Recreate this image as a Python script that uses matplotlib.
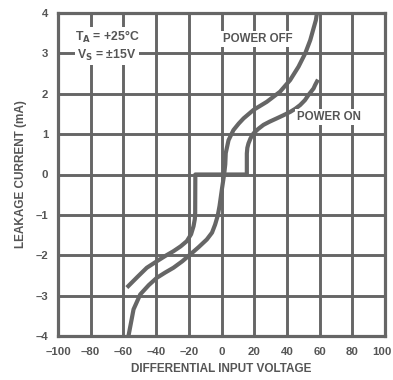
import matplotlib
matplotlib.use("Agg")
import matplotlib.pyplot as plt
from matplotlib.transforms import ScaledTranslation

# Differential input voltage (V) vs leakage current (mA)
power_off_v = [-56.9, -53.8, -49.7, -44.5, -39.6, -34.5, -29.4, -24.0, -19.1, -14.0, -9.0,
               -5.8, -3.9, -2.3, -1.2, 0.3, 1.6, 2.3, 2.6, 4.3, 7.3, 10.5, 13.5, 19.6,
               27.7, 35.8, 42.0, 47.1, 51.2, 54.3, 56.3, 57.7, 58.4]
power_off_i = [-4.0, -3.34, -2.97, -2.74, -2.56, -2.43, -2.31, -2.15, -1.98, -1.80, -1.61,
               -1.44, -1.24, -1.02, -0.78, -0.35, 0.0, 0.25, 0.53, 0.85, 1.10, 1.26, 1.39, 1.60,
               1.80, 2.05, 2.34, 2.67, 3.0, 3.33, 3.62, 3.82, 4.0]

power_on_v = [-57.9, -51.5, -45.7, -39.6, -34.5, -29.4, -25.0, -21.2, -18.6, -17.1, -16.3,
              -16.1, -16.0, 15.5, 15.5, 15.8, 16.5, 17.8, 19.6, 22.5, 25.7, 29.5, 33.8,
              38.0, 42.0, 45.2, 48.1, 51.0, 53.2, 56.3, 57.3, 59.0]
power_on_i = [-2.80, -2.54, -2.31, -2.15, -2.02, -1.90, -1.78, -1.65, -1.48, -1.28, -1.10,
              -0.95, 0.0, 0.0, 0.52, 0.66, 0.77, 0.90, 1.02, 1.13, 1.23, 1.31, 1.39,
              1.47, 1.55, 1.63, 1.72, 1.84, 1.97, 2.13, 2.22, 2.35]

x_ticks = [-100, -80, -60, -40, -20, 0, 20, 40, 60, 80, 100]
x_tick_labels = ["\u2013100", "\u201380", "\u201360", "\u201340", "\u201320", "0", "20", "40", "60", "80", "100"]
y_ticks = [-4, -3, -2, -1, 0, 1, 2, 3, 4]
y_tick_labels = ["\u20134", "\u20133", "\u20132", "\u20131", "0", "1", "2", "3", "4"]

ink = "#666666"
text_ink = "#555555"

plt.rcParams["font.family"] = ["Liberation Sans", "DejaVu Sans"]
plt.rcParams["font.weight"] = "bold"
plt.rcParams["axes.labelweight"] = "bold"
plt.rcParams["mathtext.default"] = "bf"

fig = plt.figure(figsize=(3.93, 3.80), dpi=100)
ax = fig.add_axes([58 / 393, 44 / 380, 327 / 393, 323 / 380])

ax.set_xlim(-100, 100)
ax.set_ylim(-4, 4)
ax.set_xticks(x_ticks)
ax.set_xticklabels(x_tick_labels, fontweight="bold")
ax.set_yticks(y_ticks)
ax.set_yticklabels(y_tick_labels, fontweight="bold")
ax.tick_params(length=0, labelsize=8.2, colors=text_ink)
ax.tick_params(axis="x", pad=8)
ax.tick_params(axis="y", pad=7)

# keep the rightmost voltage label inside the canvas
last = ax.get_xticklabels()[-1]
last.set_transform(last.get_transform() + ScaledTranslation(-3 / 100, 0, fig.dpi_scale_trans))

ax.grid(True, color=ink, linewidth=2.1)
ax.set_axisbelow(True)
for s in ax.spines.values():
    s.set_color(ink)
    s.set_linewidth(2.3)

ax.plot(power_off_v, power_off_i, color=ink, linewidth=3.0, solid_capstyle="butt", zorder=3)
ax.plot(power_on_v, power_on_i, color=ink, linewidth=3.0, solid_capstyle="butt", zorder=3)

box = dict(facecolor="white", edgecolor="none", pad=1.5)
ax.text(-70, 3.40, "T$_\\mathbf{A}$ = +25\u00b0C", fontsize=8.8, fontweight="bold", color=text_ink,
        ha="center", va="center", bbox=box, zorder=4)
ax.text(-70, 2.94, "V$_\\mathbf{S}$ = \u00b115V", fontsize=8.8, fontweight="bold", color=text_ink,
        ha="center", va="center", bbox=box, zorder=4)
ax.text(22.5, 3.35, "POWER OFF", fontsize=8.3, fontweight="bold", color=text_ink,
        ha="center", va="center", bbox=box, zorder=4)
ax.text(65.5, 1.42, "POWER ON", fontsize=8.3, fontweight="bold", color=text_ink,
        ha="center", va="center", bbox=box, zorder=4)

ax.set_xlabel("DIFFERENTIAL INPUT VOLTAGE", fontsize=8.5, color=text_ink, labelpad=4)
ax.set_ylabel("LEAKAGE CURRENT (mA)", fontsize=8.5, color=text_ink, labelpad=6)

fig.savefig("out.png", dpi=100)
